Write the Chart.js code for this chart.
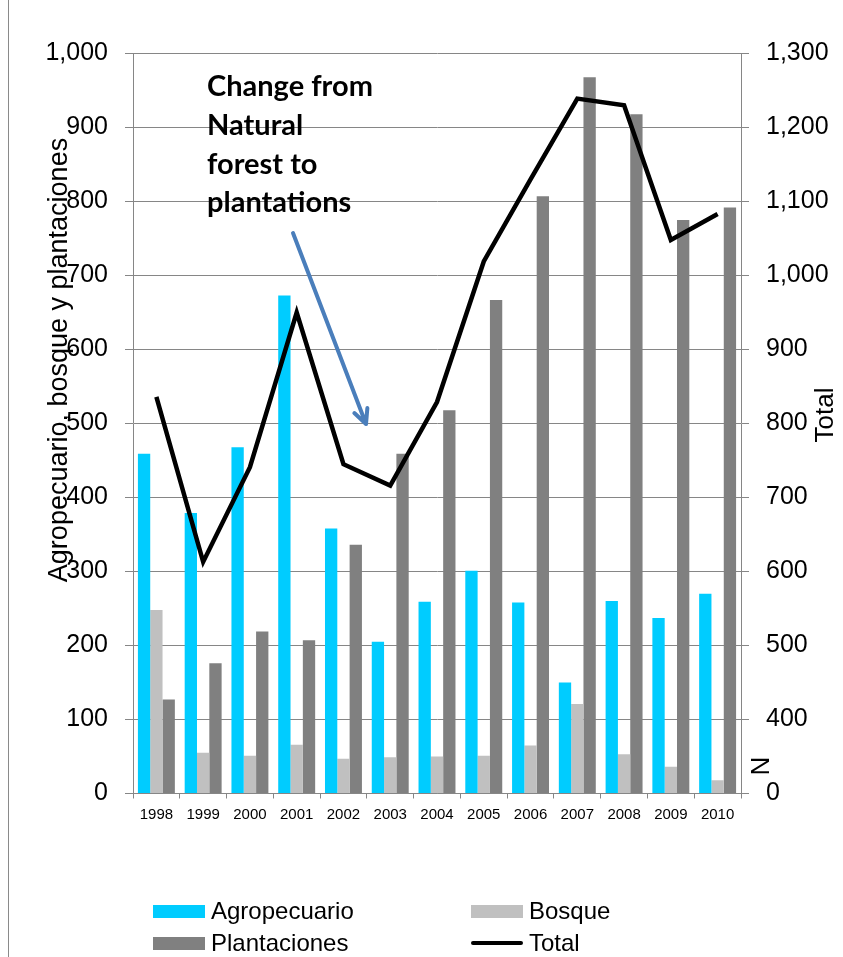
<!DOCTYPE html>
<html lang="es">
<head>
  <meta charset="UTF-8" />
  <title>Agropecuario, bosque y plantaciones</title>
  <script src="https://cdn.jsdelivr.net/npm/chart.js"></script>
  <style>
    body { margin: 0; background: #fff; font-family: "Liberation Sans", Arial, sans-serif; }
    .wrap { position: relative; width: 843px; height: 957px; overflow: hidden; }
    canvas { display: block; }
    .frame { position: absolute; left: 8px; top: 0; width: 1px; height: 957px; background: #8a8a8a; }
    .legend { position: absolute; left: 0; top: 0; font-size: 24px; color: #000; }
    .legend div { position: absolute; white-space: nowrap; height: 30px; line-height: 30px; }
    .legend span.sw { position: absolute; left: 0; width: 52px; }
    .legend span.tx { position: absolute; left: 58px; top: 0; }
  </style>
</head>
<body>
  <div class="wrap">
    <canvas id="grafico" width="843" height="957"></canvas>
    <div class="frame"></div>
    <div class="legend" id="leyenda"></div>
  </div>

  <script>
    const anios = ['1998','1999','2000','2001','2002','2003','2004','2005','2006','2007','2008','2009','2010'];
    const agropecuario = [459, 379, 468, 673, 358, 205, 259, 301, 258, 150, 260, 237, 270];
    const bosque = [248, 55, 51, 66, 47, 49, 50, 51, 65, 121, 53, 36, 18];
    const plantaciones = [127, 176, 219, 207, 336, 459, 518, 667, 807, 968, 918, 775, 792];
    const total = [836, 613, 741, 950, 745, 716, 829, 1019, 1130, 1239, 1230, 1048, 1083];

    const colores = { agro: '#00CCFF', bosque: '#C0C0C0', plant: '#808080', total: '#000000' };
    const gris = '#868686';

    // textos dibujados a mano: titulos de ejes y la nota con flecha
    const notas = {
      id: 'notas',
      afterDraw(chart) {
        const ctx = chart.ctx;
        ctx.save();
        ctx.fillStyle = '#000';
        ctx.textAlign = 'center';
        ctx.textBaseline = 'middle';

        ctx.save();
        ctx.translate(60, 360);
        ctx.rotate(-Math.PI / 2);
        ctx.font = '27px "Liberation Sans", Arial, sans-serif';
        ctx.fillText('Agropecuario, bosque y plantaciones', 0, 0);
        ctx.restore();

        ctx.save();
        ctx.translate(826, 415);
        ctx.rotate(-Math.PI / 2);
        ctx.font = '26px "Liberation Sans", Arial, sans-serif';
        ctx.fillText('Total', 0, 0);
        ctx.restore();

        ctx.save();
        ctx.translate(762, 766);
        ctx.rotate(-Math.PI / 2);
        ctx.font = '26px "Liberation Sans", Arial, sans-serif';
        ctx.fillText('N', 0, 0);
        ctx.restore();

        ctx.font = 'bold 29px Lato, "Open Sans", sans-serif';
        ctx.textAlign = 'left';
        ['Change from', 'Natural', 'forest to', 'plantations'].forEach((t, i) => {
          ctx.fillText(t, 207, 87 + i * 38.7);
        });

        // flecha
        const x0 = 293, y0 = 233, x1 = 366, y1 = 424;
        ctx.strokeStyle = '#4A7EBB';
        ctx.lineWidth = 4;
        ctx.lineCap = 'round';
        ctx.beginPath();
        ctx.moveTo(x0, y0);
        ctx.lineTo(x1, y1);
        const ang = Math.atan2(y1 - y0, x1 - x0);
        const L = 16;
        ctx.moveTo(x1, y1);
        ctx.lineTo(x1 - L * Math.cos(ang - 0.45), y1 - L * Math.sin(ang - 0.45));
        ctx.moveTo(x1, y1);
        ctx.lineTo(x1 - L * Math.cos(ang + 0.45), y1 - L * Math.sin(ang + 0.45));
        ctx.stroke();
        ctx.restore();
      }
    };

    const tickFont = { family: '"Liberation Sans", Arial, sans-serif', size: 25 };

    new Chart(document.getElementById('grafico'), {
      type: 'bar',
      data: {
        labels: anios,
        datasets: [
          { type: 'line', label: 'Total', data: total, yAxisID: 'y1', borderColor: colores.total, borderWidth: 4.5,
            pointRadius: 0, tension: 0, fill: false, order: 0 },
          { label: 'Agropecuario', data: agropecuario, backgroundColor: colores.agro, yAxisID: 'y', order: 1 },
          { label: 'Bosque', data: bosque, backgroundColor: colores.bosque, yAxisID: 'y', order: 1 },
          { label: 'Plantaciones', data: plantaciones, backgroundColor: colores.plant, yAxisID: 'y', order: 1 }
        ]
      },
      options: {
        responsive: false,
        animation: false,
        layout: { padding: { top: 53.5, left: 0, right: 0, bottom: 0 } },
        datasets: { bar: { categoryPercentage: 0.79, barPercentage: 1.0 } },
        plugins: { legend: { display: false }, tooltip: { enabled: false } },
        scales: {
          x: {
            offset: true,
            grid: { display: true, drawOnChartArea: false, offset: true, color: gris, tickLength: 5 },
            border: { color: gris },
            ticks: { color: '#000', font: { family: tickFont.family, size: 15 }, padding: 7, maxRotation: 0, autoSkip: false },
            afterFit(s) { s.height = 163.5; }
          },
          y: {
            position: 'left',
            min: 0, max: 1000,
            ticks: { stepSize: 100, color: '#000', font: tickFont, padding: 17,
              callback: v => v.toLocaleString('en-US') },
            grid: { color: gris, tickLength: 8 },
            border: { color: gris },
            afterFit(s) { s.width = 133; }
          },
          y1: {
            position: 'right',
            min: 300, max: 1300,
            ticks: { stepSize: 100, color: '#000', font: tickFont, padding: 17,
              callback: v => v === 300 ? '0' : v.toLocaleString('en-US') },
            grid: { drawOnChartArea: false, color: gris, tickLength: 8 },
            border: { color: gris },
            afterFit(s) { s.width = 102; }
          }
        }
      },
      plugins: [notas]
    });

    // leyenda en dos columnas
    const items = [
      { t: 'Agropecuario', c: colores.agro, x: 153, y: 911, linea: false },
      { t: 'Bosque', c: colores.bosque, x: 471, y: 911, linea: false },
      { t: 'Plantaciones', c: colores.plant, x: 153, y: 943, linea: false },
      { t: 'Total', c: colores.total, x: 471, y: 943, linea: true }
    ];
    const ley = document.getElementById('leyenda');
    items.forEach(it => {
      const d = document.createElement('div');
      d.style.left = it.x + 'px';
      d.style.top = (it.y - 15) + 'px';
      const h = it.linea ? 4 : 13;
      d.innerHTML = `<span class="sw" style="top:${15 - h / 2}px;height:${h}px;background:${it.c};${it.linea ? 'border-radius:2px;' : ''}"></span><span class="tx">${it.t}</span>`;
      ley.appendChild(d);
    });
  </script>
</body>
</html>
